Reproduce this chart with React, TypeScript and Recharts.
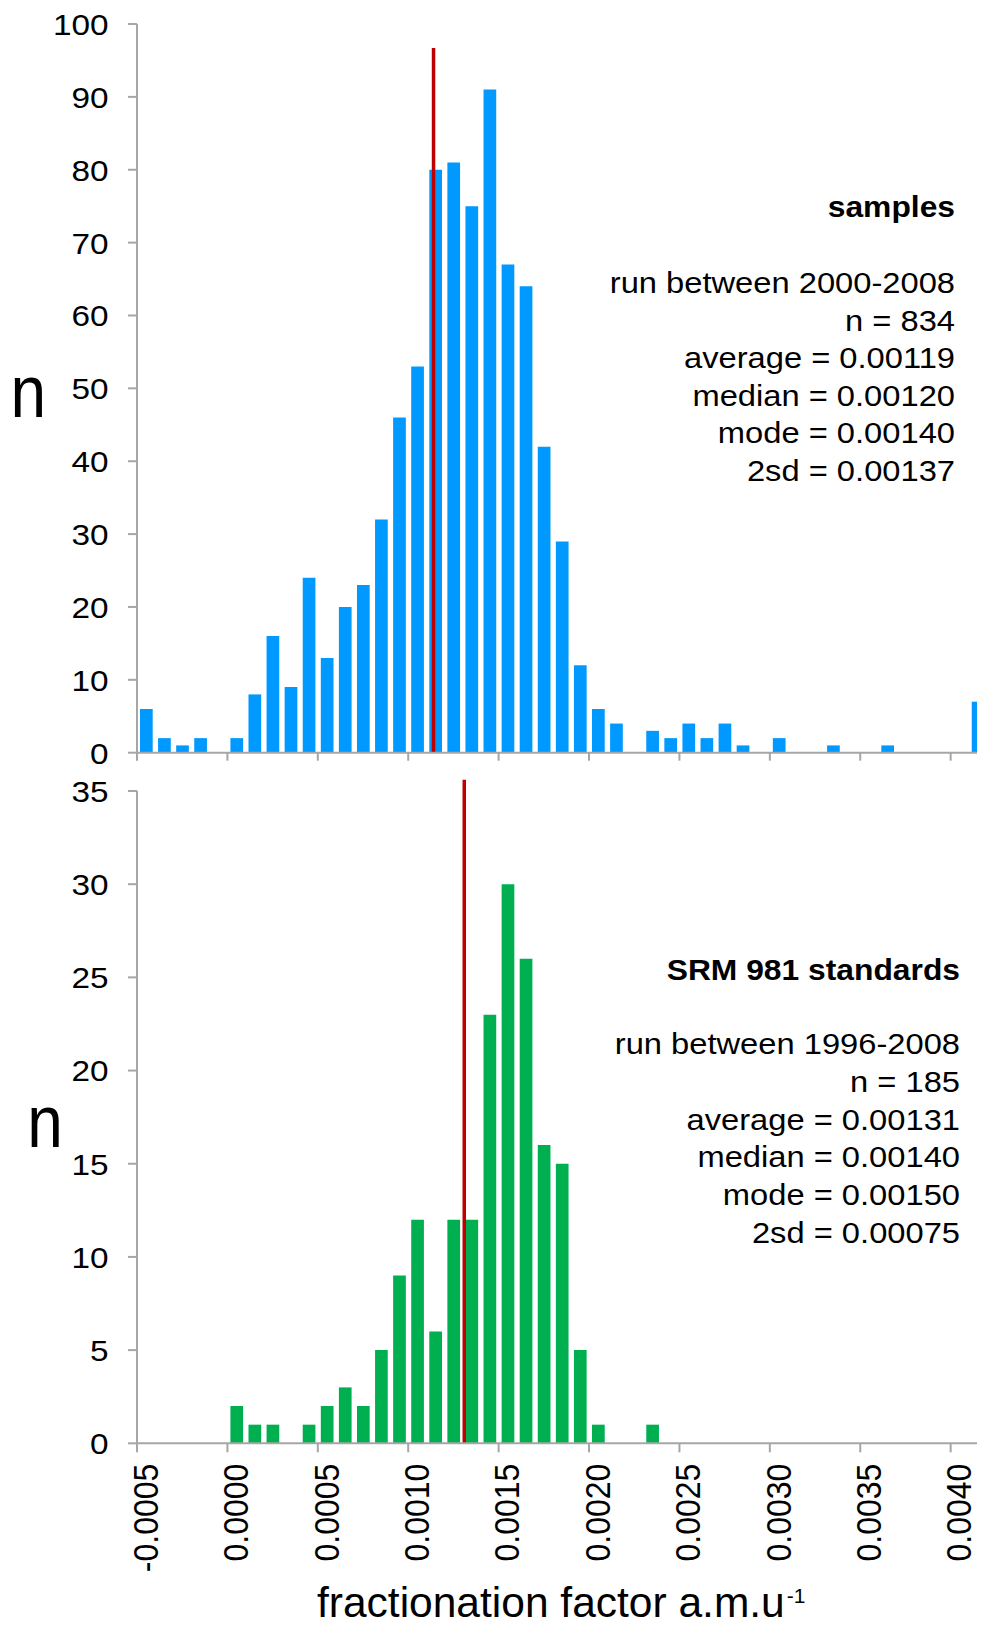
import React from 'react';
import { BarChart, Bar, XAxis, YAxis, ReferenceLine } from 'recharts';

// Histogram bin centres (bin width 0.0001 a.m.u^-1)
const binCentres = [
  -0.00045, -0.00035, -0.00025, -0.00015, -0.00005,
  0.00005, 0.00015, 0.00025, 0.00035, 0.00045,
  0.00055, 0.00065, 0.00075, 0.00085, 0.00095,
  0.00105, 0.00115, 0.00125, 0.00135, 0.00145,
  0.00155, 0.00165, 0.00175, 0.00185, 0.00195,
  0.00205, 0.00215, 0.00225, 0.00235, 0.00245,
  0.00255, 0.00265, 0.00275, 0.00285, 0.00295,
  0.00305, 0.00315, 0.00325, 0.00335, 0.00345,
  0.00355, 0.00365, 0.00375, 0.00385, 0.00395,
  0.00405, 0.00415,
];

// Counts per bin: samples
const sampleCounts = [
  6, 2, 1, 2, 0,
  2, 8, 16, 9, 24,
  13, 20, 23, 32, 46,
  53, 80, 81, 75, 91,
  67, 64, 42, 29, 12,
  6, 4, 0, 3, 2,
  4, 2, 4, 1, 0,
  2, 0, 0, 1, 0,
  0, 1, 0, 0, 0,
  0, 7,
];

// Counts per bin: SRM 981 standards
const standardCounts = [
  0, 0, 0, 0, 0,
  2, 1, 1, 0, 1,
  2, 3, 2, 5, 9,
  12, 6, 12, 12, 23,
  30, 26, 16, 15, 5,
  1, 0, 0, 1, 0,
  0, 0, 0, 0, 0,
  0, 0, 0, 0, 0,
  0, 0, 0, 0, 0,
  0, 0,
];

const xTickValues = [-0.0005, 0, 0.0005, 0.001, 0.0015, 0.002, 0.0025, 0.003, 0.0035, 0.004];
const xDomain: [number, number] = [-0.0005, 0.00419];
const sampleYTicks = [0, 10, 20, 30, 40, 50, 60, 70, 80, 90, 100];
const standardYTicks = [0, 5, 10, 15, 20, 25, 30, 35];

const sampleTitle = 'samples';
const sampleStats = [
  'run between 2000-2008',
  'n = 834',
  'average = 0.00119',
  'median = 0.00120',
  'mode = 0.00140',
  '2sd = 0.00137',
];
const standardTitle = 'SRM 981 standards';
const standardStats = [
  'run between 1996-2008',
  'n = 185',
  'average = 0.00131',
  'median = 0.00140',
  'mode = 0.00150',
  '2sd = 0.00075',
];

// Red marker lines (x position, top in counts)
const sampleMarker = { x: 0.00114, top: 96.7 };
const standardMarker = { x: 0.00131, top: 35.6 };

const sampleRows = binCentres.map((x, i) => ({ x, n: sampleCounts[i] }));
const standardRows = binCentres.map((x, i) => ({ x, n: standardCounts[i] }));

const FONT = '"Liberation Sans", Arial, Helvetica, sans-serif';
const AXIS = '#A6A6A6';
const BLUE = '#0099FF';
const GREEN = '#00B050';
const RED = '#C00000';

const NoTick = () => null;

const YTick = (props: any) => {
  const { x, y, payload } = props;
  return (
    <g transform={`translate(${x},${y}) scale(1.1,1)`}>
      <text x={0} y={0} dy="0.36em" textAnchor="end" fontSize={30.3} fill="#000" fontFamily={FONT}>
        {payload.value}
      </text>
    </g>
  );
};

const XTick = (props: any) => {
  const { x, y, payload } = props;
  return (
    <g transform={`translate(${x},${y}) scale(1.08,1) rotate(-90)`}>
      <text x={-11.4} y={19.2} textAnchor="end" fontSize={32} fill="#000" fontFamily={FONT}>
        {Number(payload.value).toFixed(4)}
      </text>
    </g>
  );
};

const axisLine = { stroke: AXIS, strokeWidth: 2 };

function StatsBlock({ title, lines, right, titleY, firstY, gap }: any) {
  return (
    <g fontFamily={FONT} fill="#000">
      <text
        transform={`translate(${right},${titleY}) scale(1.06,1)`}
        textAnchor="end"
        fontSize={30}
        fontWeight="bold"
      >
        {title}
      </text>
      {lines.map((t: string, i: number) => (
        <text
          key={t}
          transform={`translate(${right},${firstY + i * gap}) scale(1.09,1)`}
          textAnchor="end"
          fontSize={30}
        >
          {t}
        </text>
      ))}
    </g>
  );
}

export default function App() {
  return (
    <div
      style={{
        position: 'relative',
        width: 985,
        height: 1628,
        margin: -8,
        overflow: 'hidden',
        background: '#fff',
        fontFamily: FONT,
      }}
    >
      <div style={{ position: 'absolute', left: 0, top: 0 }}>
        <BarChart
          width={985}
          height={770}
          data={sampleRows}
          margin={{ top: 24, right: 0, bottom: 0, left: 0 }}
        >
          <XAxis
            dataKey="x"
            type="number"
            domain={xDomain}
            ticks={xTickValues}
            interval={0}
            allowDataOverflow
            height={17.3}
            tick={NoTick}
            tickSize={8}
            axisLine={axisLine}
            tickLine={axisLine}
          />
          <YAxis
            type="number"
            domain={[0, 100]}
            ticks={sampleYTicks}
            interval={0}
            width={137}
            tickSize={9}
            tickMargin={19.5}
            axisLine={axisLine}
            tickLine={axisLine}
            tick={YTick}
          />
          <Bar dataKey="n" fill={BLUE} barSize={12.7} isAnimationActive={false} />
          <ReferenceLine
            segment={[
              { x: sampleMarker.x, y: 0 },
              { x: sampleMarker.x, y: sampleMarker.top },
            ]}
            stroke={RED}
            strokeWidth={3.5}
            ifOverflow="visible"
          />
        </BarChart>
      </div>

      <div style={{ position: 'absolute', left: 0, top: 760 }}>
        <BarChart
          width={985}
          height={868}
          data={standardRows}
          margin={{ top: 31, right: 0, bottom: 0, left: 0 }}
        >
          <XAxis
            dataKey="x"
            type="number"
            domain={xDomain}
            ticks={xTickValues}
            interval={0}
            allowDataOverflow
            height={184.7}
            tickSize={9}
            tickMargin={0}
            axisLine={axisLine}
            tickLine={axisLine}
            tick={XTick}
          />
          <YAxis
            type="number"
            domain={[0, 35]}
            ticks={standardYTicks}
            interval={0}
            width={137}
            tickSize={9}
            tickMargin={19.5}
            axisLine={axisLine}
            tickLine={axisLine}
            tick={YTick}
          />
          <Bar dataKey="n" fill={GREEN} barSize={12.7} isAnimationActive={false} />
          <ReferenceLine
            segment={[
              { x: standardMarker.x, y: 0 },
              { x: standardMarker.x, y: standardMarker.top },
            ]}
            stroke={RED}
            strokeWidth={3.5}
            ifOverflow="visible"
          />
        </BarChart>
      </div>

      <svg
        width={985}
        height={1628}
        style={{ position: 'absolute', left: 0, top: 0, pointerEvents: 'none' }}
      >
        <StatsBlock title={sampleTitle} lines={sampleStats} right={955} titleY={217} firstY={293} gap={37.6} />
        <StatsBlock title={standardTitle} lines={standardStats} right={960} titleY={980} firstY={1054.3} gap={37.7} />

        <text transform="translate(28.3,416.7) scale(1,1.15)" textAnchor="middle" fontSize={64} fontFamily={FONT} fill="#000">
          n
        </text>
        <text transform="translate(45,1146.7) scale(1,1.15)" textAnchor="middle" fontSize={64} fontFamily={FONT} fill="#000">
          n
        </text>

        <text x={317} y={1616.5} fontSize={42.5} fontFamily={FONT} fill="#000">
          fractionation factor a.m.u
          <tspan fontSize={21} dy={-13.7} dx={2}>-1</tspan>
        </text>
      </svg>
    </div>
  );
}
